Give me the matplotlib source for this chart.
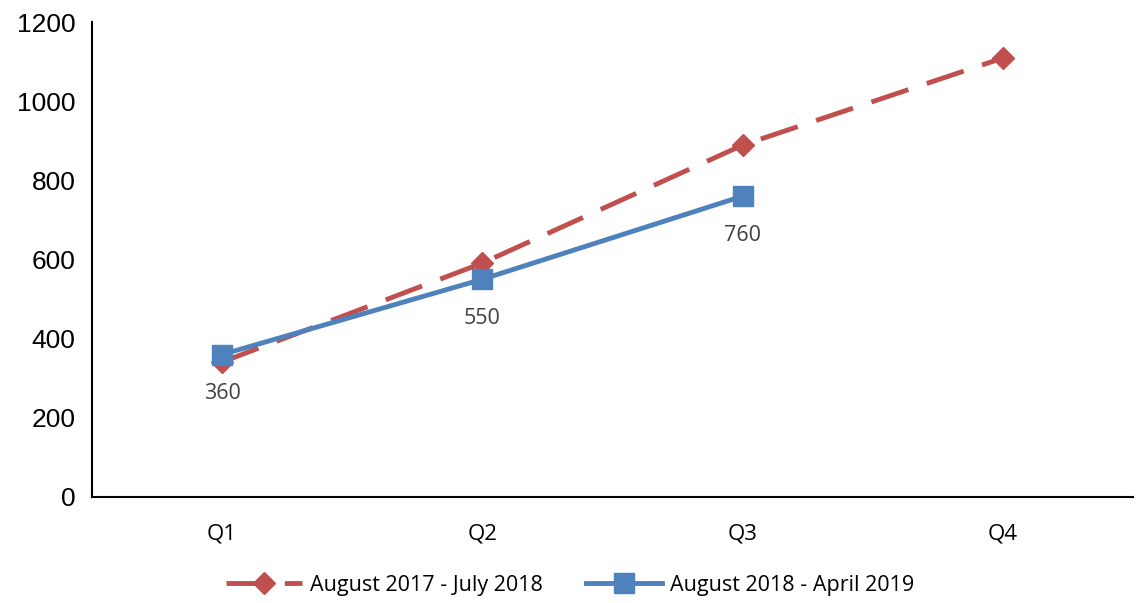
import matplotlib.pyplot as plt
import numpy as np

quarters = ["Q1", "Q2", "Q3", "Q4"]
series_2017 = [341, 591, 889, 1109]
series_2018 = [360, 550, 760]
label_2017 = "August 2017 - July 2018"
label_2018 = "August 2018 - April 2019"

red = "#C0504D"
blue = "#4F81BD"

fig = plt.figure(figsize=(11.41, 6.03), dpi=100)
ax = fig.add_axes([92 / 1141, 106 / 603, (1133 - 92) / 1141, 475 / 603])

x1 = np.arange(len(series_2017))
x2 = np.arange(len(series_2018))
ax.plot(x1, series_2017, color=red, lw=3.5, dashes=(8, 4), marker="D",
        markersize=11, label=label_2017)
ax.plot(x2, series_2018, color=blue, lw=3.5, marker="s",
        markersize=14, label=label_2018)

for x, v in zip(x2, series_2018):
    ax.annotate(str(v), (x, v), xytext=(0, -28), textcoords="offset points",
                ha="center", va="center", fontsize=15.5, color="#404040",
                family="Open Sans")

ax.set_xlim(-0.5, 3.5)
ax.set_ylim(0, 1200)
ax.set_yticks(range(0, 1201, 200))
ax.set_xticks(x1)
ax.set_xticklabels(quarters, fontsize=16, family="Open Sans")
ax.tick_params(axis="x", length=0, pad=19)
ax.tick_params(axis="y", length=0, pad=12, labelsize=19)
for lab in ax.get_yticklabels():
    lab.set_family("Liberation Sans")
ax.spines["top"].set_visible(False)
ax.spines["right"].set_visible(False)
ax.spines["left"].set_linewidth(1.5)
ax.spines["bottom"].set_linewidth(1.5)

fig.legend(loc="center", bbox_to_anchor=(0.5, 1 - 585 / 603), ncol=2,
           frameon=False, prop={"family": "Open Sans", "size": 15.5},
           handlelength=3.5, columnspacing=2, handletextpad=0.4)

fig.savefig("out.png", dpi=100)
